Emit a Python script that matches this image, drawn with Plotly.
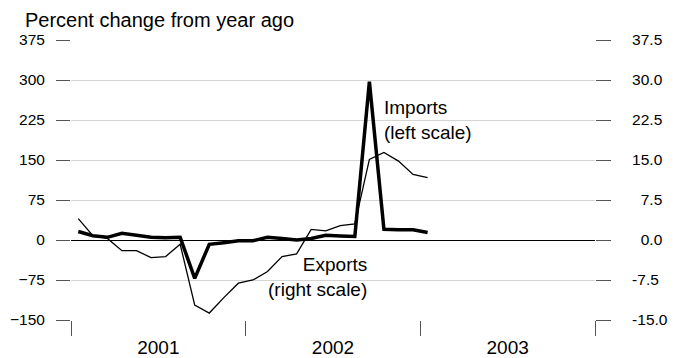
import plotly.graph_objects as go

# Monthly observations, Jan 2001 - Jan 2003 (month index, centred in month)
months = [i + 0.5 for i in range(25)]
imports_pct = [40, 8, 3, -20, -20, -33, -31, -8, -122, -137, -108, -81,
               -75, -59, -31, -26, 20, 17, 27, 30, 151, 164, 148, 123, 117]
exports_pct = [1.6, 0.8, 0.5, 1.25, 0.9, 0.5, 0.4, 0.5, -7.2, -0.8, -0.5, -0.15,
               -0.15, 0.5, 0.3, 0.0, 0.3, 0.9, 0.75, 0.65, 29.7, 2.0, 1.9, 1.9, 1.4]

years = ["2001", "2002", "2003"]
year_mid = [6, 18, 30]
year_bounds = [0, 12, 24, 36]
left_ticks = [-150, -75, 0, 75, 150, 225, 300, 375]
right_ticks = [-15.0, -7.5, 0.0, 7.5, 15.0, 22.5, 30.0, 37.5]
right_text = ["-15.0", "-7.5", "\u20070.0", "\u20077.5", "15.0", "22.5", "30.0", "37.5"]

FONT = "Liberation Sans, Arial, Helvetica, sans-serif"

fig = go.Figure()
fig.add_trace(go.Scatter(x=months, y=imports_pct, mode="lines",
                         line=dict(color="black", width=1.3), yaxis="y",
                         name="Imports", showlegend=False))
fig.add_trace(go.Scatter(x=months, y=exports_pct, mode="lines",
                         line=dict(color="black", width=3.5), yaxis="y2",
                         name="Exports", showlegend=False))

fig.update_layout(
    template="none",
    width=681, height=358,
    margin=dict(l=71, r=86, t=40, b=38, autoexpand=False),
    paper_bgcolor="white", plot_bgcolor="white",
    font=dict(family=FONT, color="black"),
    showlegend=False,
    xaxis=dict(
        range=[0, 36], showgrid=False, zeroline=False, showline=False,
        automargin=False,
        tickmode="array", tickvals=year_mid, ticktext=years, ticks="",
        tickfont=dict(size=19), ticklabelstandoff=14,
        minor=dict(tickmode="array", tickvals=year_bounds, ticks="outside",
                   ticklen=15, tickwidth=1, tickcolor="#555", showgrid=False),
    ),
    yaxis=dict(
        range=[-150, 375], tickmode="array", tickvals=left_ticks,
        automargin=False,
        ticks="outside", ticklen=14, tickwidth=1, tickcolor="#555",
        showgrid=True, gridcolor="#d4d4d4", gridwidth=1,
        zeroline=True, zerolinecolor="black", zerolinewidth=1,
        showline=False, tickfont=dict(size=15.5), ticklabelstandoff=8,
    ),
    yaxis2=dict(
        range=[-15, 37.5], overlaying="y", side="right",
        automargin=False,
        tickmode="array", tickvals=right_ticks, ticktext=right_text,
        ticks="outside", ticklen=15, tickwidth=1, tickcolor="#555",
        showgrid=False, zeroline=False, showline=False,
        tickfont=dict(size=15.5), ticklabelstandoff=18,
    ),
)

fig.add_annotation(text="Percent change from year ago", xref="paper", yref="paper",
                   x=(23 - 71) / 524, y=1 + (40 - 19.5) / 280, xanchor="left",
                   yanchor="middle", showarrow=False, font=dict(size=20))
fig.add_annotation(text="Imports<br>(left scale)", xref="x", yref="y",
                   x=21.35, y=225, xanchor="left", yanchor="middle", align="left",
                   showarrow=False, font=dict(size=19))
fig.add_annotation(text="Exports<br>(right scale)", xref="x", yref="y",
                   x=20.5, y=-69, xanchor="right", yanchor="middle", align="right",
                   showarrow=False, font=dict(size=19))

# remove the browser's default page margin so the figure sits at the window's corner
fig.write_html("out.html",
               config={"displayModeBar": False},
               post_script="document.body.style.margin='0';document.body.style.overflow='hidden';")
